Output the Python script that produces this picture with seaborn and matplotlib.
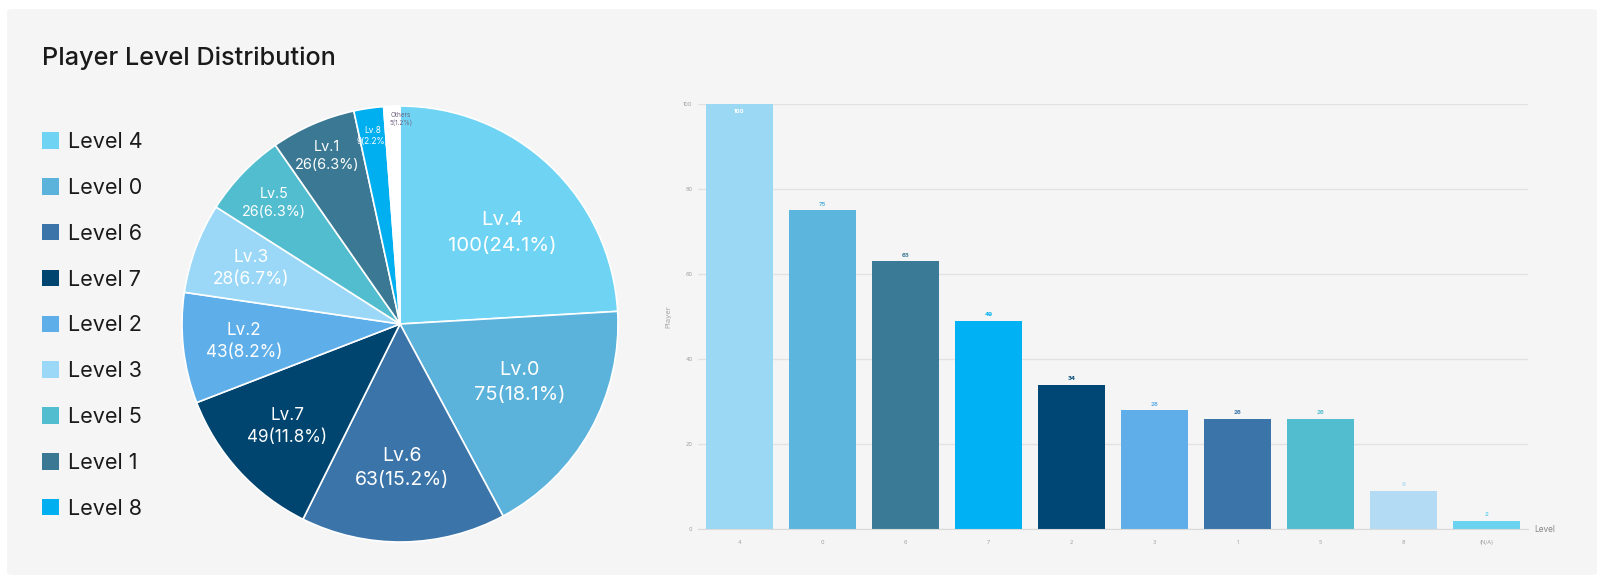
import numpy as np
import matplotlib
matplotlib.use('Agg')
import matplotlib.pyplot as plt
from matplotlib.patches import FancyBboxPatch, Patch
import seaborn as sns

# pie: player level share
pie_levels = ['4', '0', '6', '7', '2', '3', '5', '1', '8']
pie_counts = [100, 75, 63, 49, 43, 28, 26, 26, 9]
pie_pcts = [24.1, 18.1, 15.2, 11.8, 8.2, 6.7, 6.3, 6.3, 2.2]
others_count = 5
others_pct = 1.2

# bar: players per level
bar_levels = ['4', '0', '6', '7', '2', '3', '1', '5', '8', '(N/A)']
bar_players = [100, 75, 63, 49, 34, 28, 26, 26, 9, 2]

pie_colors = ['#6FD4F4', '#5BB3DB', '#3A74A9', '#00456F', '#5EAEEA',
              '#9BD8F8', '#53BDD0', '#3A7893', '#00AFF0']
others_color = '#FFFFFF'
bar_colors = ['#9AD8F4', '#5CB5DD', '#3A7A96', '#00B1F3', '#004775',
              '#5FAEEA', '#3A74A9', '#53BDD0', '#B3DCF4', '#6BD2F0']

sns.set_style('white')
plt.rcParams['font.family'] = ['Inter', 'DejaVu Sans']

W, H = 1600, 584
fig = plt.figure(figsize=(W / 100, H / 100), dpi=100)
fig.patch.set_facecolor('white')
bg = FancyBboxPatch((7 / W, 9 / H), 1590 / W, 566 / H,
                    boxstyle='round,pad=0,rounding_size=0.004',
                    transform=fig.transFigure, facecolor='#F5F5F5',
                    edgecolor='none', zorder=-1)
fig.patches.append(bg)

fig.text(42 / W, 1 - 65 / H, 'Player Level Distribution', fontsize=18.2,
         fontweight='medium', color='#1A1A1A', va='baseline', ha='left')

# ---- pie ----
cx, cy, r = 400, 324, 218
ax_pie = fig.add_axes([(cx - r) / W, (H - cy - r) / H, 2 * r / W, 2 * r / H])
sizes = pie_pcts + [others_pct]
wedges, _ = ax_pie.pie(sizes, colors=pie_colors + [others_color], startangle=90,
                       counterclock=False, radius=1,
                       wedgeprops=dict(edgecolor='white', linewidth=1.2))
ax_pie.set_xlim(-1, 1)
ax_pie.set_ylim(-1, 1)

labels = [f'Lv.{l}\n{c}({p}%)' for l, c, p in zip(pie_levels, pie_counts, pie_pcts)]
labels.append(f'Others\n{others_count}({others_pct}%)')
label_r = [0.63, 0.61, 0.66, 0.70, 0.72, 0.73, 0.80, 0.84, 0.87, 0.94]
label_da = [-5, 3, 0, 0, 0, 0, 0, 0, 0, -2.5]
label_fs = [14.7, 14.3, 14, 12.3, 12.3, 12.5, 10.3, 10.4, 6, 4.6]
label_ls = [1.55, 1.5, 1.45, 1.4, 1.4, 1.4, 1.35, 1.35, 1.3, 1.3]
label_col = ['white'] * 9 + ['#6E6480']
for w, t, rr, da, fs, ls, col in zip(wedges, labels, label_r, label_da,
                                     label_fs, label_ls, label_col):
    ang = np.deg2rad((w.theta1 + w.theta2) / 2 + da)
    ax_pie.text(rr * np.cos(ang), rr * np.sin(ang), t, ha='center', va='center',
                fontsize=fs, color=col, linespacing=ls)

handles = [Patch(facecolor=c, edgecolor='none') for c in pie_colors]
fig.legend(handles, [f'Level {l}' for l in pie_levels], loc='upper left',
           bbox_to_anchor=(42 / W, 1 - 132 / H), frameon=False, fontsize=15.5,
           handlelength=0.8, handleheight=0.8, handletextpad=0.4,
           labelspacing=1.2, borderpad=0, borderaxespad=0,
           labelcolor='#1A1A1A')

# ---- bars ----
ax = fig.add_axes([698 / W, (H - 529) / H, (1528 - 698) / W, (529 - 104) / H])
ax.set_facecolor('none')
sns.barplot(x=bar_levels, y=bar_players, hue=bar_levels,
            palette=dict(zip(bar_levels, bar_colors)), legend=False,
            width=0.8, saturation=1, linewidth=0, ax=ax)
ax.set_xlim(-0.5, 9.5)
ax.set_ylim(0, 100)
ax.set_yticks(range(0, 101, 20))
ax.yaxis.grid(True, color='#E2E2E2', linewidth=1)
ax.xaxis.grid(False)
ax.set_axisbelow(True)
for s in ['top', 'right', 'left']:
    ax.spines[s].set_visible(False)
ax.spines['bottom'].set_color('#DADADA')
ax.tick_params(length=0, labelsize=4, colors='#A0A0A0')
ax.tick_params(axis='x', pad=8)
ax.tick_params(axis='y', pad=4)
ax.set_xlabel('')
ax.set_ylabel('Player', fontsize=5.5, color='#A8A8A8', labelpad=8)
ax.text(1.008, 0, 'Level', transform=ax.transAxes, ha='left', va='center',
        fontsize=6, color='#888888')

for i, (v, c) in enumerate(zip(bar_players, bar_colors)):
    if v >= 100:
        ax.text(i, v - 1.2, str(v), ha='center', va='top', fontsize=4.3,
                fontweight='bold', color='white')
    else:
        ax.text(i, v + 0.8, str(v), ha='center', va='bottom', fontsize=4.3,
                fontweight='bold', color=c)

fig.savefig('out.png', dpi=100)
